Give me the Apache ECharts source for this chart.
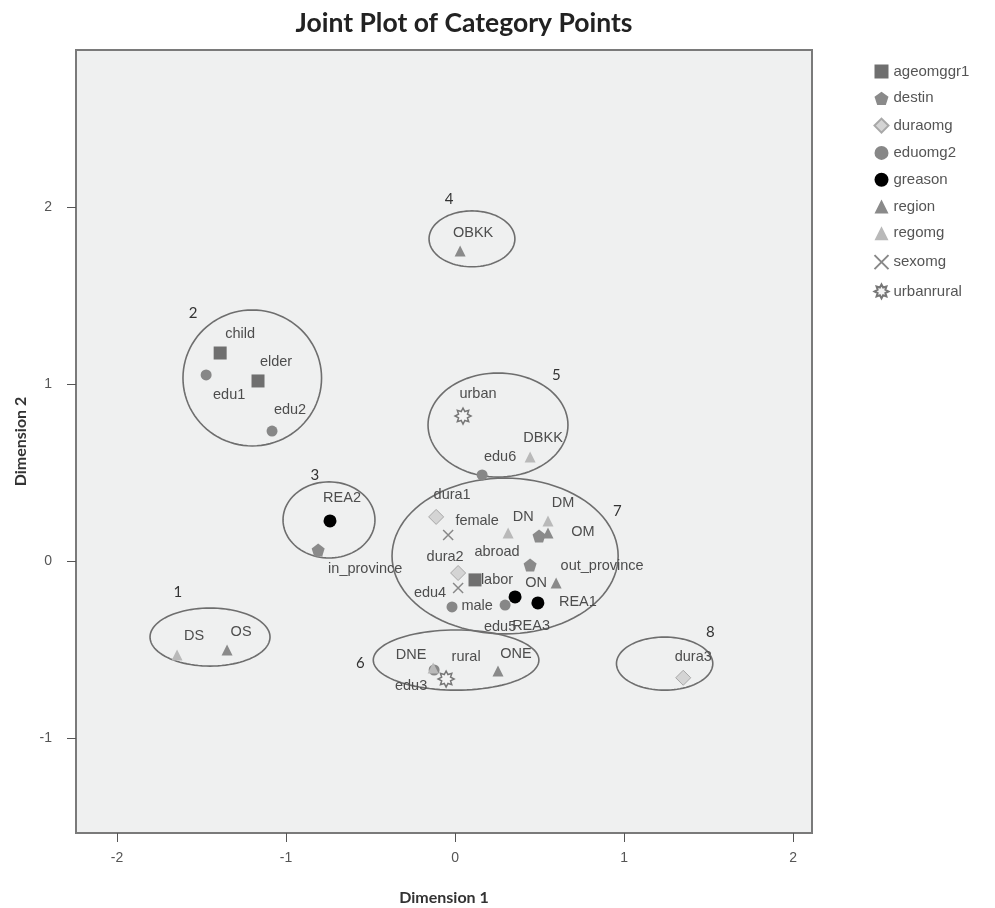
<!DOCTYPE html>
<html>
<head>
<meta charset="utf-8">
<script src="https://cdn.jsdelivr.net/npm/echarts@6/dist/echarts.min.js"></script>
<style>html,body{margin:0;padding:0;background:#fff}#c{width:995px;height:908px}</style>
</head>
<body>
<div id="c"></div>
<script>
// ---- data (name, dimension1, dimension2) ----
const ageomggr1 = [["child",-1.39,1.175],["elder",-1.166,1.017],["labor",0.118,-0.107]];
const destin = [["in_province",-0.81,0.062],["abroad",0.497,0.141],["out_province",0.444,-0.023]];
const duraomg = [["dura1",-0.112,0.249],["dura2",0.018,-0.068],["dura3",1.35,-0.66]];
const eduomg2 = [["edu1",-1.473,1.051],["edu2",-1.083,0.734],["edu3",-0.124,-0.616],["edu4",-0.018,-0.26],["edu5",0.296,-0.249],["edu6",0.16,0.486]];
const greason = [["REA1",0.49,-0.237],["REA2",-0.74,0.226],["REA3",0.355,-0.203]];
const region = [["OS",-1.349,-0.503],["ON",0.598,-0.124],["OM",0.55,0.158],["ONE",0.254,-0.621],["OBKK",0.03,1.751]];
const regomg = [["DS",-1.645,-0.531],["DN",0.314,0.158],["DM",0.55,0.226],["DNE",-0.13,-0.605],["DBKK",0.444,0.588]];
const sexomg = [["female",-0.041,0.147],["male",0.018,-0.153]];
const urbanrural = [["urban",0.047,0.819],["rural",-0.053,-0.667]];
// cluster ellipses: id, centre x, centre y, radius x, radius y, number x, number y
const clusters = [
  ["1",-1.45,-0.43,0.355,0.164,-1.64,-0.175],
  ["2",-1.20,1.034,0.41,0.384,-1.55,1.40],
  ["3",-0.746,0.232,0.272,0.215,-0.83,0.486],
  ["4",0.10,1.82,0.254,0.158,-0.035,2.045],
  ["5",0.254,0.768,0.414,0.294,0.60,1.05],
  ["6",0.006,-0.56,0.49,0.17,-0.56,-0.58],
  ["7",0.296,0.028,0.669,0.44,0.96,0.28],
  ["8",1.24,-0.58,0.285,0.15,1.51,-0.40]
];
const xTicks = [-2,-1,0,1,2];
const yTicks = [-1,0,1,2];

// ---- styles (label offsets in px) ----
const labelOffsets = {
  child:[20,-19], elder:[18,-19], labor:[22,0],
  in_province:[47,19], abroad:[-42,16], out_province:[72,1],
  dura1:[16,-22], dura2:[-13,-16], dura3:[10,-21],
  edu1:[23,20], edu2:[18,-21], edu3:[-23,16], edu4:[-22,-14], edu5:[-5,22], edu6:[18,-18],
  REA1:[40,-1], REA2:[12,-23], REA3:[16,29],
  OS:[14,-18], ON:[-20,0], OM:[35,-1], ONE:[18,-17], OBKK:[13,-18],
  DS:[17,-19], DN:[15,-16], DM:[15,-18], DNE:[-22,-13], DBKK:[13,-19],
  female:[29,-14], male:[19,18], urban:[15,-22], rural:[20,-22]
};

function starPath(n, ro, ri){
  let s = 'path://';
  for (let i=0;i<2*n;i++){
    const r = i%2===0?ro:ri;
    const a = Math.PI*i/n - Math.PI/2;
    s += (i===0?'M':'L') + (r*Math.cos(a)).toFixed(2) + ',' + (r*Math.sin(a)).toFixed(2);
  }
  return s + 'Z';
}
const pentagon = 'path://M0,-10L9.51,-3.09L5.88,8.09L-5.88,8.09L-9.51,-3.09Z';
const cross = 'path://M0,0L10,10M10,0L0,10';

const FONT = '"Liberation Sans", Arial, sans-serif';
function pts(arr){
  return arr.map(d => ({name:d[0], value:[d[1],d[2]], label:{offset: labelOffsets[d[0]] || [0,0]}}));
}
function mk(name, arr, symbol, size, itemStyle){
  itemStyle.opacity = 1;
  return {
    name, type:'scatter', data: pts(arr), symbol, symbolSize:size, itemStyle,
    z: 3,
    label:{show:true, position:'inside', formatter:'{b}', color:'#4d4d4d', fontSize:14.5, fontFamily:FONT},
    emphasis:{disabled:true}
  };
}

const chart = echarts.init(document.getElementById('c'), null, {renderer:'canvas'});
const seriesNames = ['ageomggr1','destin','duraomg','eduomg2','greason','region','regomg','sexomg','urbanrural'];
chart.setOption({
  animation:false,
  backgroundColor:'#fff',
  title:{text:'Joint Plot of Category Points', left:459, top:5, textAlign:'center',
    textStyle:{fontFamily:'Lato, sans-serif', fontWeight:'bold', fontSize:26.5, color:'#222'}},
  legend:{
    data: seriesNames, orient:'vertical', left:867, top:59, itemWidth:14, itemHeight:14, itemGap:11.8,
    textStyle:{fontFamily:FONT, fontSize:15, color:'#555'}, selectedMode:false
  },
  grid:{left:76, right:183, top:50, bottom:75, outerBoundsMode:'none', containLabel:false,
    show:true, backgroundColor:'#eff0f0', borderColor:'#7a7a7a', borderWidth:2},
  xAxis:{
    type:'value', min:-2.243, max:2.112,
    name:'Dimension 1', nameLocation:'middle', nameGap:57,
    nameTextStyle:{fontFamily:'Lato, sans-serif', fontWeight:'bold', fontSize:16, color:'#333'},
    axisLine:{show:true, onZero:false, lineStyle:{color:'#7a7a7a', width:2}},
    axisTick:{show:true, length:9, lineStyle:{color:'#555'}, customValues:xTicks},
    axisLabel:{fontFamily:FONT, fontSize:14, color:'#555', margin:18, customValues:xTicks},
    splitLine:{show:false}
  },
  yAxis:{
    type:'value', min:-1.537, max:2.887,
    name:'Dimension 2', nameLocation:'middle', nameGap:43, nameRotate:90,
    nameTextStyle:{fontFamily:'Lato, sans-serif', fontWeight:'bold', fontSize:16, color:'#333'},
    axisLine:{show:true, onZero:false, lineStyle:{color:'#7a7a7a', width:2}},
    axisTick:{show:true, length:9, lineStyle:{color:'#555'}, customValues:yTicks},
    axisLabel:{fontFamily:FONT, fontSize:14, color:'#555', margin:24, customValues:yTicks},
    splitLine:{show:false}
  },
  series:[
    {
      type:'custom', name:'clusters', z:2, silent:true,
      data: clusters.map(c => c.slice(1)),
      encode:{x:[0,4], y:[1,5]},
      renderItem:function(params, api){
        const c = api.coord([api.value(0), api.value(1)]);
        const r = api.size([api.value(2), api.value(3)]);
        const pointsArr = [];
        for (let i=0;i<96;i++){
          const a = 2*Math.PI*i/96;
          pointsArr.push([c[0]+r[0]*Math.cos(a), c[1]+r[1]*Math.sin(a)]);
        }
        const n = api.coord([api.value(4), api.value(5)]);
        return {type:'group', children:[
          {type:'polygon', shape:{points:pointsArr}, style:{fill:'none', stroke:'#6e6e6e', lineWidth:1.6}},
          {type:'text', x:n[0], y:n[1], style:{text:clusters[params.dataIndex][0], fill:'#333', font:'15px Lato, sans-serif', align:'center', verticalAlign:'middle'}}
        ]};
      }
    },
    mk('ageomggr1', ageomggr1, 'rect', 13, {color:'#6f6f6f'}),
    mk('destin', destin, pentagon, 13, {color:'#8a8a8a'}),
    mk('duraomg', duraomg, 'diamond', 15, {color:'#d4d4d4', borderColor:'#a8a8a8', borderWidth:1}),
    mk('eduomg2', eduomg2, 'circle', 11, {color:'#878787'}),
    mk('greason', greason, 'circle', 13, {color:'#000'}),
    mk('region', region, 'triangle', 11, {color:'#8a8a8a'}),
    mk('regomg', regomg, 'triangle', 11, {color:'#b9b9b9'}),
    mk('sexomg', sexomg, cross, 10, {color:'none', borderColor:'#888', borderWidth:1.5}),
    mk('urbanrural', urbanrural, starPath(8,10,6), 16, {color:'#f4f4f4', borderColor:'#777', borderWidth:1.5})
  ]
});
</script>
</body>
</html>
